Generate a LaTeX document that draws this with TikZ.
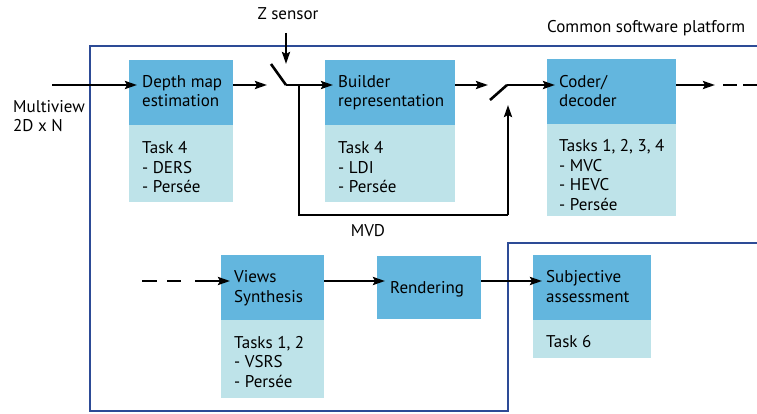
\documentclass[tikz,border=0pt]{standalone}
\usepackage{fontspec}
\setmainfont{PT Sans}
\usetikzlibrary{arrows.meta}
\definecolor{boxdark}{RGB}{99,182,222}
\definecolor{boxlight}{RGB}{190,227,233}
\definecolor{frameblue}{RGB}{45,75,150}
\tikzset{
  darkbox/.style={fill=boxdark, draw=none, anchor=north west, inner sep=0pt},
  lightbox/.style={fill=boxlight, draw=none, anchor=north west, inner sep=0pt},
  txt/.style={anchor=base west, align=left, inner sep=0pt, font=\fontsize{17}{19.5}\selectfont},
  conn/.style={line width=2.6pt, -{Stealth[length=12pt,width=8pt,inset=2pt]}},
  plain/.style={line width=2.6pt},
  frame/.style={draw=frameblue, line width=1.4pt},
}
\begin{document}
\begin{tikzpicture}[x=1pt,y=-1pt]
\useasboundingbox (0,0) rectangle (757,414);
% frame
\draw[frame] (757,46) -- (90,46) -- (90,411) -- (508,411) -- (508,243) -- (757,243);
\node[txt] (platform) at (547,33) {Common software platform};
\node[txt, anchor=base] (zsensor) at (288,20) {Z sensor};
\node[txt] (multiview) at (13,132) {Multiview\\2D x N};
% boxes
\node[darkbox, minimum width=104, minimum height=65] (depth) at (129,60) {};
\node[lightbox, minimum width=104, minimum height=77] (depthL) at (129,125) {};
\node[darkbox, minimum width=130, minimum height=65] (builder) at (325,60) {};
\node[lightbox, minimum width=130, minimum height=77] (builderL) at (325,125) {};
\node[darkbox, minimum width=129, minimum height=65] (coder) at (547,59) {};
\node[lightbox, minimum width=129, minimum height=92] (coderL) at (547,124) {};
\node[darkbox, minimum width=103, minimum height=65] (views) at (221,255) {};
\node[lightbox, minimum width=103, minimum height=78] (viewsL) at (221,320) {};
\node[darkbox, minimum width=104, minimum height=63] (render) at (377,256) {};
\node[darkbox, minimum width=118, minimum height=65] (subj) at (533,255) {};
\node[lightbox, minimum width=118, minimum height=38] (subjL) at (533,320) {};
% texts (anchored at the baseline of the last line)
\node[txt] (t1) at (142,107) {Depth map\\estimation};
\node[txt] (t2) at (142,193) {Task 4\\- DERS\\- Persée};
\node[txt] (t3) at (338,107) {Builder\\representation};
\node[txt] (t4) at (338,193) {Task 4\\- LDI\\- Persée};
\node[txt] (t5) at (559,107) {Coder/\\decoder};
\node[txt] (t6) at (559,210) {Tasks 1, 2, 3, 4\\- MVC\\- HEVC\\- Persée};
\node[txt] (t7) at (234,302) {Views\\Synthesis};
\node[txt] (t8) at (234,387) {Tasks 1, 2\\- VSRS\\- Persée};
\node[txt] (t9) at (390,293) {Rendering};
\node[txt] (t10) at (546,302) {Subjective\\assessment};
\node[txt] (t11) at (546,347) {Task 6};
\node[txt, anchor=base] (mvd) at (368,236) {MVD};
% switch coordinates
\coordinate (in) at (52,85);
\coordinate (s1in) at (267,85);
\coordinate (s1a) at (271,64);
\coordinate (s1b) at (286,85);
\coordinate (ztop) at (286,33);
\coordinate (ztip) at (286,64);
\coordinate (mvdA) at (299,85);
\coordinate (mvdB) at (299,215);
\coordinate (mvdC) at (508,215);
\coordinate (mvdTip) at (508,105);
\coordinate (s2in) at (488,85);
\coordinate (s2a) at (490,100);
\coordinate (s2b) at (507,85);
\coordinate (outTip) at (715,85);
\coordinate (d1a) at (723,85);
\coordinate (d1b) at (737,85);
\coordinate (d2a) at (743,85);
\coordinate (d2b) at (757,85);
\coordinate (e1a) at (142,281);
\coordinate (e1b) at (157,281);
\coordinate (e2a) at (167,281);
\coordinate (e2b) at (181,281);
\coordinate (e3a) at (195,281);
% connectors
\draw[conn, shorten >=-8pt] (in) -- (in -| depth.west);
\draw[conn] (depth.west |- in) ++(104,0) -- (s1in);
\draw[plain] (s1a) -- (s1b);
\draw[conn, shorten >=-8pt] (s1b) -- (s1b -| builder.west);
\draw[conn] (ztop) -- (ztip);
\draw[plain, line join=miter] (mvdA) -- (mvdB) -- (mvdC);
\draw[conn] (mvdC) -- (mvdTip);
\draw[conn] (builder.east |- s2in) -- (s2in);
\draw[plain] (s2a) -- (s2b);
\draw[conn, shorten >=-8pt] (s2b) -- (s2b -| coder.west);
\draw[conn] (coder.east |- outTip) -- (outTip);
\draw[plain] (d1a) -- (d1b);
\draw[plain] (d2a) -- (d2b);
\draw[plain] (e1a) -- (e1b);
\draw[plain] (e2a) -- (e2b);
\draw[conn, shorten >=-9pt] (e3a) -- (e3a -| views.west);
\draw[conn, shorten >=-8pt] (views.east |- e3a) -- (e3a -| render.west);
\draw[conn, shorten >=-9pt] (render.east |- e3a) -- (e3a -| subj.west);
\end{tikzpicture}
\end{document}
